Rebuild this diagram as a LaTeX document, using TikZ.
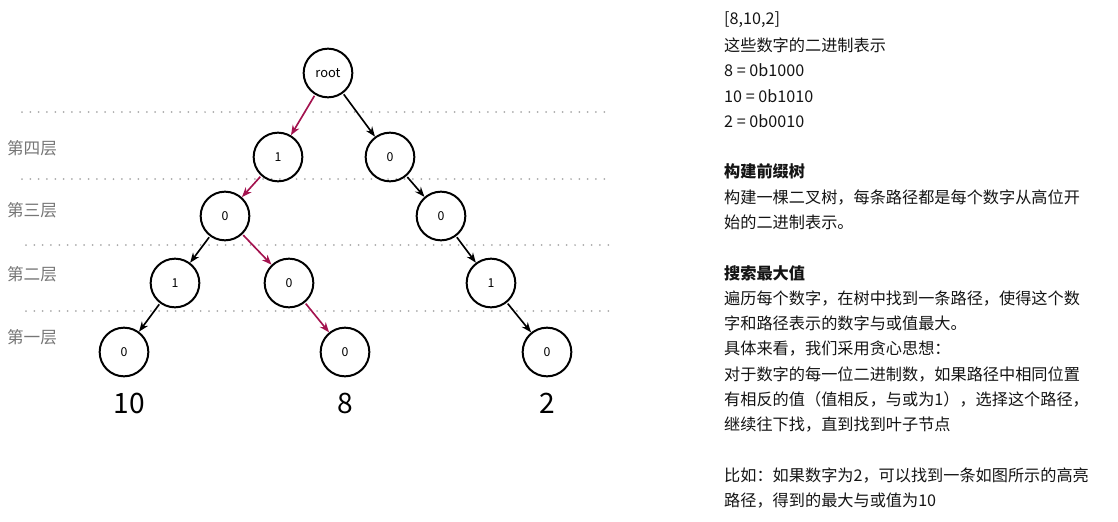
\documentclass[tikz,border=0pt]{standalone}
\usepackage{fontspec}
\setmainfont{Noto Sans CJK SC}
\usepackage{tikz}
\usepackage{xcolor}
\usetikzlibrary{arrows.meta}
\definecolor{hilite}{RGB}{163,18,78}
\definecolor{layergray}{RGB}{118,118,118}
\definecolor{dotgray}{RGB}{170,170,170}
\definecolor{ink}{RGB}{20,20,20}

\begin{document}
\begin{tikzpicture}[x=0.03cm, y=-0.03cm, >={Stealth[length=8.5pt,width=6.5pt]},
    bit/.style={circle, draw, line width=1.7pt, minimum size=1.46cm, inner sep=0pt, font=\fontsize{10.5}{12}\selectfont},
    edge/.style={->, line width=1.4pt, shorten <=1pt},
    hot/.style={edge, hilite},
    levelline/.style={dotgray, line width=1.7pt, dash pattern=on 0pt off 7.1pt, line cap=round},
    layer/.style={layergray, font=\fontsize{14.2}{16}\selectfont},
    total/.style={font=\fontsize{24}{27}\selectfont},
    note/.style={anchor=west, inner sep=0pt, ink, font=\fontsize{13.8}{16}\selectfont}]
    \useasboundingbox (0,0) rectangle (1118,521);

    % Layer separators
    \draw[levelline] (22,112) -- (612,112);
    \draw[levelline] (22,179) -- (612,179);
    \draw[levelline] (26,245) -- (612,245);
    \draw[levelline] (26,311) -- (612,311);

    % Layer names
    \node[layer] (lv4) at (32,148) {第四层};
    \node[layer] (lv3) at (32,210) {第三层};
    \node[layer] (lv2) at (32,274) {第二层};
    \node[layer] (lv1) at (32,337) {第一层};

    % Prefix tree
    \node[bit, font=\fontsize{11}{12}\selectfont] (root) at (328,73) {root};
    \node[bit] (l4a) at (278,157) {1};
    \node[bit] (l4b) at (390,157) {0};
    \node[bit] (l3a) at (225,216) {0};
    \node[bit] (l3b) at (441,216) {0};
    \node[bit] (l2a) at (175,283) {1};
    \node[bit] (l2b) at (289,283) {0};
    \node[bit] (l2c) at (491,283) {1};
    \node[bit] (l1a) at (124,352) {0};
    \node[bit] (l1b) at (345,352) {0};
    \node[bit] (l1c) at (547,352) {0};

    \draw[hot] (root) -- (l4a);
    \draw[edge] (root) -- (l4b);
    \draw[hot] (l4a) -- (l3a);
    \draw[edge] (l4b) -- (l3b);
    \draw[edge] (l3a) -- (l2a);
    \draw[hot] (l3a) -- (l2b);
    \draw[edge] (l3b) -- (l2c);
    \draw[edge] (l2a) -- (l1a);
    \draw[hot] (l2b) -- (l1b);
    \draw[edge] (l2c) -- (l1c);

    % Numbers at the leaves
    \node[total] (n10) at (129,403) {10};
    \node[total] (n8) at (345,403) {8};
    \node[total] (n2) at (547,403) {2};

    % Explanation
    \foreach \i/\t in {0/{[8,10,2]}, 1/这些数字的二进制表示, 2/8 = 0b1000, 3/10 = 0b1010, 4/2 = 0b0010,
        6/\textbf{构建前缀树}, 7/构建一棵二叉树，每条路径都是每个数字从高位开, 8/始的二进制表示。,
        10/\textbf{搜索最大值}, 11/遍历每个数字，在树中找到一条路径，使得这个数,
        12/字和路径表示的数字与或值最大。, 13/具体来看，我们采用贪心思想：,
        14/对于数字的每一位二进制数，如果路径中相同位置, 15/有相反的值（值相反，与或为1），选择这个路径，,
        16/继续往下找，直到找到叶子节点, 18/比如：如果数字为2，可以找到一条如图所示的高亮,
        19/路径，得到的最大与或值为10}
        \node[note] (note\i) at (724,{20+25.3*\i}) {\t};
\end{tikzpicture}
\end{document}
